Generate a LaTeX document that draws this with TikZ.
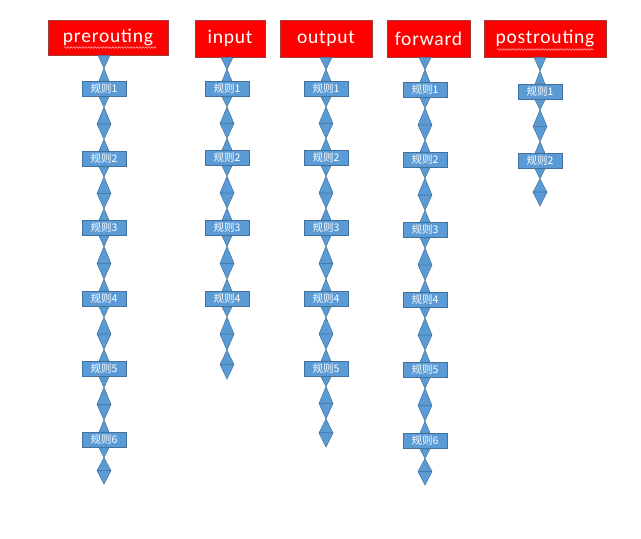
\documentclass[tikz,border=0pt]{standalone}
\usepackage{fontspec}
\setmainfont{Carlito}
\newfontfamily\hdrfnt[LetterSpace=4]{Carlito}
\newfontfamily\cjk{Noto Sans CJK SC}
\usetikzlibrary{calc,decorations.pathmorphing}
\definecolor{blu}{HTML}{5B9BD5}
\definecolor{bdr}{HTML}{41719C}
\definecolor{hbd}{HTML}{A23B3B}
\tikzset{
  hdr/.style={draw=hbd, line width=0.6pt, fill=red, text=white, font=\hdrfnt\fontsize{19.5}{22}\selectfont, inner sep=0pt},
  rulebox/.style={draw=bdr, line width=0.6pt, fill=blu, text=white, font=\cjk\fontsize{10.5}{12}\selectfont, minimum width=44pt, minimum height=15pt, inner sep=0pt},
  conn/.style={fill=blu, draw=bdr, line width=0.5pt, line join=round},
  squig/.style={draw=red!35!white, line width=0.6pt, decorate, decoration={snake, amplitude=0.8pt, segment length=3pt}}
}
\newcommand\mytri[3]{\draw[conn] ($(#1)+(-#2,0)$) -- ($(#1)+(#2,0)$) -- (#3) -- cycle;}
% link between two rule boxes
\newcommand\lnk[2]{%
  \path (#1.south) coordinate (p0)
        ($(#1.south)!0.19!(#2.north)$) coordinate (p1)
        ($(#1.south)!0.5!(#2.north)$) coordinate (pm)
        ($(#1.south)!0.78!(#2.north)$) coordinate (p2)
        (#2.north) coordinate (p3);
  \mytri{p0}{5}{p1}\mytri{pm}{7}{p1}\mytri{pm}{7}{p2}\mytri{p3}{5}{p2}}
% hourglass from header to first box
\newcommand\hglass[2]{%
  \path (#1.south -| #2.north) coordinate (p0)
        ($(p0)!0.5!(#2.north)$) coordinate (p1)
        (#2.north) coordinate (p3);
  \mytri{p0}{6}{p1}\mytri{p3}{5}{p1}}
% short tail: one diamond
\newcommand\shorttail[2]{%
  \path (#1.south) coordinate (p0)
        ($(#1.south)!0.27!(#2)$) coordinate (p1)
        ($(#1.south)!0.63!(#2)$) coordinate (pm);
  \mytri{p0}{5}{p1}\mytri{pm}{7}{p1}\mytri{pm}{7}{#2}}
% long tail: two diamonds
\newcommand\longtail[2]{%
  \path (#1.south) coordinate (p0)
        ($(#1.south)!0.14!(#2)$) coordinate (p1)
        ($(#1.south)!0.38!(#2)$) coordinate (pm)
        ($(#1.south)!0.6!(#2)$) coordinate (p2)
        ($(#1.south)!0.8!(#2)$) coordinate (pn);
  \mytri{p0}{5}{p1}\mytri{pm}{7}{p1}\mytri{pm}{7}{p2}\mytri{pn}{7}{p2}\mytri{pn}{7}{#2}}
\begin{document}
\begin{tikzpicture}[x=1pt,y=-1pt]
\useasboundingbox (0,0) rectangle (641,539);
% headers
\node[hdr, minimum width=120pt, minimum height=35pt] (hpre) at (108,37.5) {\raisebox{-1.5pt}{prerouting}};
\node[hdr, minimum width=70pt, minimum height=37pt] (hin) at (230,38.5) {\raisebox{-1.5pt}{input}};
\node[hdr, minimum width=92pt, minimum height=37pt] (hout) at (326,38.5) {\raisebox{-1.5pt}{output}};
\node[hdr, minimum width=83pt, minimum height=37pt] (hfwd) at (428.5,38.5) {\raisebox{-1.5pt}{forward}};
\node[hdr, minimum width=122pt, minimum height=37pt] (hpost) at (545,38.5) {\raisebox{-1.5pt}{postrouting}};
\draw[squig] ($(hpre.center)+(-44,10)$) -- ($(hpre.center)+(48,10)$);
\draw[squig] ($(hpost.center)+(-48,11)$) -- ($(hpost.center)+(48,11)$);
% prerouting column
\foreach \i/\y in {1/89,2/159,3/228,4/299,5/369,6/440}
  \node[rulebox] (pre\i) at (104,\y) {规则\i};
\coordinate (preEnd) at (104,484);
% input column
\foreach \i/\y in {1/89,2/158,3/228,4/299}
  \node[rulebox] (in\i) at (227,\y) {规则\i};
\coordinate (inEnd) at (227,379);
% output column
\foreach \i/\y in {1/89,2/158,3/228,4/299,5/369}
  \node[rulebox] (out\i) at (326,\y) {规则\i};
\coordinate (outEnd) at (326,447);
% forward column
\foreach \i/\y in {1/90,2/160,3/230,4/300,5/370,6/441}
  \node[rulebox] (fwd\i) at (425,\y) {规则\i};
\coordinate (fwdEnd) at (425,485);
% postrouting column
\foreach \i/\y in {1/92,2/161}
  \node[rulebox] (post\i) at (540,\y) {规则\i};
\coordinate (postEnd) at (540,206);
% connectors
\hglass{hpre}{pre1}
\lnk{pre1}{pre2}\lnk{pre2}{pre3}\lnk{pre3}{pre4}\lnk{pre4}{pre5}\lnk{pre5}{pre6}
\shorttail{pre6}{preEnd}
\hglass{hin}{in1}
\lnk{in1}{in2}\lnk{in2}{in3}\lnk{in3}{in4}
\longtail{in4}{inEnd}
\hglass{hout}{out1}
\lnk{out1}{out2}\lnk{out2}{out3}\lnk{out3}{out4}\lnk{out4}{out5}
\longtail{out5}{outEnd}
\hglass{hfwd}{fwd1}
\lnk{fwd1}{fwd2}\lnk{fwd2}{fwd3}\lnk{fwd3}{fwd4}\lnk{fwd4}{fwd5}\lnk{fwd5}{fwd6}
\shorttail{fwd6}{fwdEnd}
\hglass{hpost}{post1}
\lnk{post1}{post2}
\shorttail{post2}{postEnd}
\end{tikzpicture}
\end{document}
